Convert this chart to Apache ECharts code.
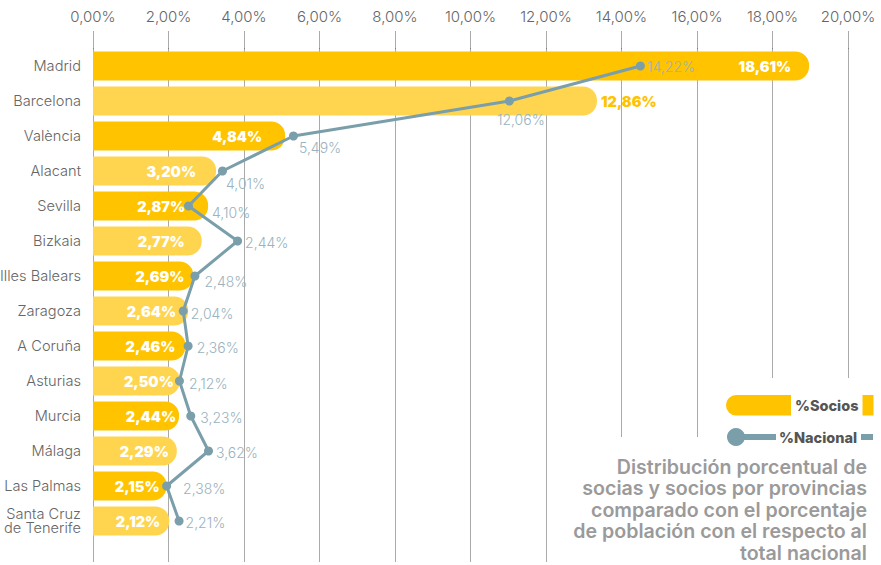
<!DOCTYPE html>
<html>
<head>
<meta charset="utf-8">
<script src="https://cdn.jsdelivr.net/npm/echarts@6/dist/echarts.min.js"></script>
<style>
  html, body { margin: 0; padding: 0; background: #fff; }
  #chart { width: 881px; height: 565px; }
</style>
</head>
<body>
<div id="chart"></div>
<script>
var provincias = ['Madrid', 'Barcelona', 'València', 'Alacant', 'Sevilla', 'Bizkaia', 'Illes Balears',
  'Zaragoza', 'A Coruña', 'Asturias', 'Murcia', 'Málaga', 'Las Palmas', 'Santa Cruz\nde Tenerife'];

// printed values
var sociosPct = [18.61, 12.86, 4.84, 3.20, 2.87, 2.77, 2.69, 2.64, 2.46, 2.50, 2.44, 2.29, 2.15, 2.12];
var nacionalPct = [14.22, 12.06, 5.49, 4.01, 4.10, 2.44, 2.48, 2.04, 2.36, 2.12, 3.23, 3.62, 2.38, 2.21];

// the infographic does not draw marks at their printed values: lengths/positions
var sociosBar = [18.97, 13.35, 5.09, 3.26, 3.05, 2.88, 2.66, 2.52, 2.45, 2.30, 2.28, 2.22, 1.95, 2.02];
var nacionalDot = [14.50, 11.03, 5.31, 3.43, 2.53, 3.83, 2.70, 2.39, 2.52, 2.29, 2.59, 3.06, 1.95, 2.28];

var xTicks = [0, 2, 4, 6, 8, 10, 12, 14, 16, 18, 20];

var dark = '#FFC300', light = '#FFD54F', blue = '#7A9FAB', blueTxt = '#9AB3BE';
var font = 'Inter, "Open Sans", sans-serif';

// label tweaks (style only)
var barLabelGap = [18, 4, 23, 20, 23, 17, 9, 12, 10, 6, 3, 8, 7, 9];
var dotLabelShift = [[0, 0], [-19, 18], [-1, 11], [-3, 12], [17, 6], [1, 1], [3, 5], [1, 2],
  [2, 1], [3, 2], [3, 1], [1, 1], [10, 2], [0, 1]];

function pct(v) { return v.toFixed(2).replace('.', ',') + '%'; }

var chart = echarts.init(document.getElementById('chart'), null, { renderer: 'svg' });

chart.setOption({
  animation: false,
  textStyle: { fontFamily: font },
  grid: { left: 93, right: 33, top: 48.5, bottom: 26.5, outerBoundsMode: 'none' },
  xAxis: [{
    type: 'value', position: 'top', min: xTicks[0], max: xTicks[xTicks.length - 1], interval: 2,
    axisLine: { show: false },
    axisTick: { show: true, length: 17, lineStyle: { color: '#555', type: 'dotted', width: 1 } },
    splitLine: { show: true, lineStyle: { color: '#555', type: 'dotted', width: 1 } },
    axisLabel: { margin: 25, color: '#666', fontSize: 15, fontWeight: 300, fontFamily: font, formatter: pct }
  }, {
    type: 'value', position: 'bottom', min: xTicks[0], max: xTicks[xTicks.length - 1], interval: 2,
    axisLine: { show: false },
    axisTick: { show: true, length: 24, lineStyle: { color: '#555', type: 'dotted', width: 1 } },
    splitLine: { show: false },
    axisLabel: { show: false }
  }],
  yAxis: {
    type: 'category', inverse: true, data: provincias,
    axisLine: { show: false }, axisTick: { show: false },
    axisLabel: { margin: 12, color: '#666', fontSize: 14.6, fontWeight: 300, lineHeight: 14, fontFamily: font }
  },
  series: [{
    name: '%Socios',
    type: 'bar',
    barWidth: 29,
    z: 2,
    data: sociosBar.map(function (v, i) {
      var outside = i === 1;
      return {
        value: v,
        itemStyle: { color: i % 2 ? light : dark, borderRadius: [0, 14, 14, 0] },
        label: {
          show: true,
          position: outside ? 'right' : 'insideRight',
          distance: barLabelGap[i],
          color: outside ? dark : '#fff',
          fontSize: 14.5, fontWeight: 900, fontFamily: font,
          formatter: pct(sociosPct[i])
        }
      };
    })
  }, {
    name: '%Nacional',
    type: 'line',
    z: 3,
    symbol: 'circle',
    symbolSize: 9,
    lineStyle: { color: blue, width: 3 },
    itemStyle: { color: blue },
    data: nacionalDot.map(function (v, i) {
      return {
        value: v,
        label: {
          show: true, position: 'right', distance: 2, offset: dotLabelShift[i],
          color: blueTxt, fontSize: 14, fontWeight: 300, fontFamily: font,
          formatter: pct(nacionalPct[i])
        }
      };
    })
  }],
  graphic: {
    elements: [
      // grid lines are cut where the legend and note sit
      { type: 'rect', z: 1, shape: { x: 700, y: 378, width: 181, height: 187 }, style: { fill: '#fff' } },
      { type: 'rect', z: 1, shape: { x: 590, y: 437, width: 120, height: 128 }, style: { fill: '#fff' } },
      { type: 'rect', z: 10, shape: { x: 726, y: 395, width: 65, height: 20.5, r: [10, 0, 0, 10] }, style: { fill: dark } },
      { type: 'text', z: 10, x: 795, y: 405.5, style: { text: '%Socios', fill: '#555', font: '800 14.5px ' + font, verticalAlign: 'middle' } },
      { type: 'rect', z: 10, shape: { x: 862.5, y: 395, width: 11, height: 20.5 }, style: { fill: dark } },
      { type: 'rect', z: 10, shape: { x: 736, y: 434, width: 40, height: 6 }, style: { fill: blue } },
      { type: 'circle', z: 10, shape: { cx: 736, cy: 437, r: 9 }, style: { fill: blue } },
      { type: 'text', z: 10, x: 779, y: 437.5, style: { text: '%Nacional', fill: '#555', font: '800 14.5px ' + font, verticalAlign: 'middle' } },
      { type: 'rect', z: 10, shape: { x: 861, y: 434, width: 12, height: 6 }, style: { fill: blue } },
      {
        type: 'text', z: 10, x: 867, y: 456,
        style: {
          text: 'Distribución porcentual de\nsocias y socios por provincias\ncomparado con el porcentaje\nde población con el respecto al\ntotal nacional',
          fill: '#9a9a9a', font: '600 19.6px ' + font, align: 'right', verticalAlign: 'top', lineHeight: 21.5
        }
      }
    ]
  }
});
</script>
</body>
</html>
